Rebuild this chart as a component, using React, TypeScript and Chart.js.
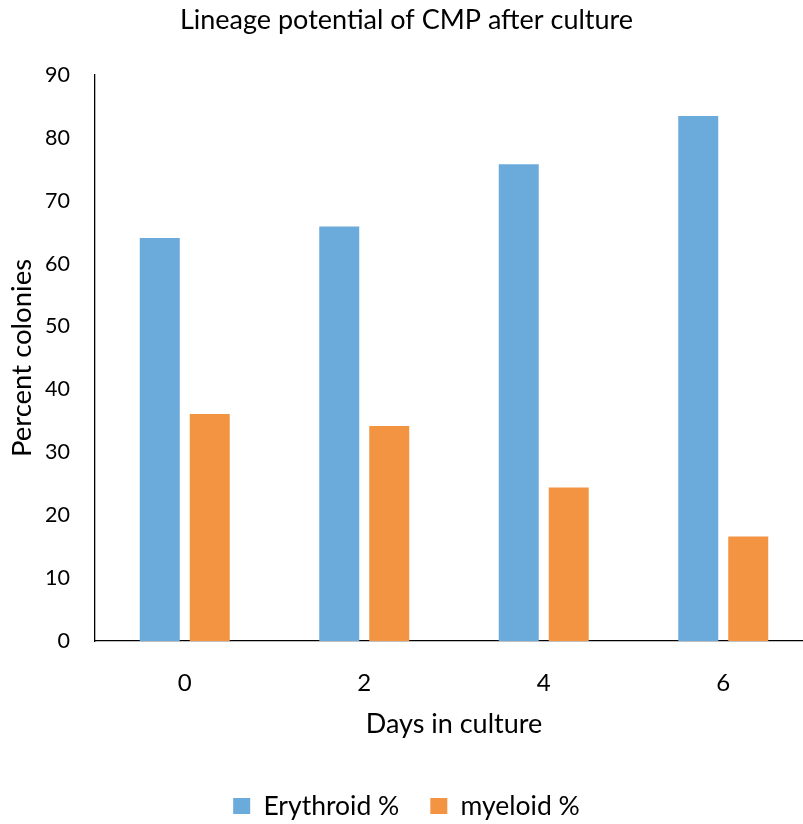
import React, { useEffect, useRef } from "react";
import { Chart, registerables } from "chart.js";

Chart.register(...registerables);

const categories = ["0", "2", "4", "6"];
const erythroid = [64.1, 65.9, 75.8, 83.5];
const myeloid = [36.1, 34.2, 24.4, 16.6];
const seriesNames = ["Erythroid %", "myeloid %"];
const chartTitle = "Lineage potential of CMP after culture";
const xTitle = "Days in culture";
const yTitle = "Percent colonies";

const FONT = "Lato, 'Open Sans', sans-serif";

export default function App() {
  const ref = useRef<HTMLCanvasElement | null>(null);
  useEffect(() => {
    if (!ref.current) return;
    const chart = new Chart(ref.current, {
      type: "bar",
      data: {
        labels: categories,
        datasets: [
          {
            label: seriesNames[0],
            data: erythroid,
            backgroundColor: "#6babdb",
            barPercentage: 0.8,
            categoryPercentage: 0.557,
          },
          {
            label: seriesNames[1],
            data: myeloid,
            backgroundColor: "#f29442",
            barPercentage: 0.8,
            categoryPercentage: 0.557,
          },
        ],
      },
      options: {
        responsive: false,
        animation: false,
        layout: { padding: { left: 0, right: 0, top: 0, bottom: -5.25 } },
        plugins: {
          title: {
            display: true,
            text: chartTitle,
            color: "#000",
            font: { family: FONT, size: 27, weight: "normal" },
            padding: { top: 4, bottom: 38.6 },
          },
          legend: {
            position: "bottom",
            labels: {
              color: "#000",
              font: { family: FONT, size: 26.5 },
              boxWidth: 17,
              boxHeight: 16,
              padding: 31,
            },
          },
          tooltip: { enabled: false },
        },
        scales: {
          x: {
            grid: { display: false, drawTicks: false },
            border: { display: true, color: "#000", width: 1.3 },
            ticks: { color: "#000", font: { family: FONT, size: 24 }, padding: 27.6 },
            title: {
              display: true,
              text: xTitle,
              color: "#000",
              font: { family: FONT, size: 27 },
              padding: { top: 0, bottom: 21.5 },
            },
            afterFit: (s: any) => {
              s.height = 120.75;
            },
          },
          y: {
            min: 0,
            max: 90,
            grid: { display: false, drawTicks: false },
            border: { display: true, color: "#000", width: 1.3 },
            ticks: {
              stepSize: 10,
              color: "#000",
              font: { family: FONT, size: 21.5 },
              padding: 25,
            },
            title: {
              display: true,
              text: yTitle,
              color: "#000",
              font: { family: FONT, size: 27.5 },
              padding: { top: 5.5, bottom: 0 },
            },
            afterFit: (s: any) => {
              s.width = 95;
            },
          },
        },
      },
    });
    return () => chart.destroy();
  }, []);
  return (
    <div
      style={{
        position: "fixed",
        left: 0,
        top: 0,
        width: 803,
        height: 824,
        overflow: "hidden",
        background: "#fff",
      }}
    >
      <canvas ref={ref} width={813} height={824} style={{ width: 813, height: 824 }} />
    </div>
  );
}
